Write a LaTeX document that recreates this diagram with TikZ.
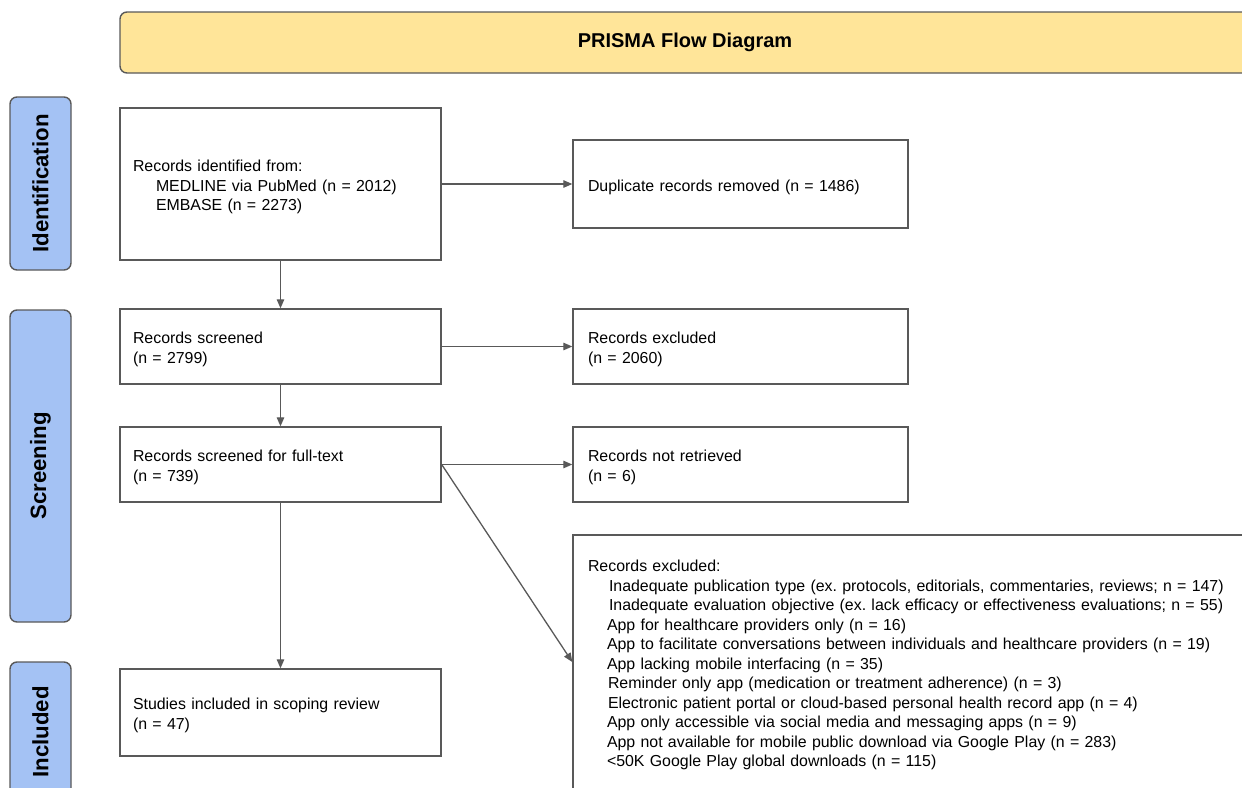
\documentclass[tikz,border=0pt]{standalone}
\usepackage{fontspec}
\setmainfont{Liberation Sans}
\usetikzlibrary{arrows.meta}
\frenchspacing
\definecolor{titlefill}{HTML}{FFE599}
\definecolor{sidefill}{HTML}{A4C2F4}
\definecolor{linegray}{HTML}{595959}
\newcommand\firstline{\rule{0pt}{17.5pt}}
\tikzset{
  stagebox/.style={draw=linegray, line width=1.4pt, fill=white, rectangle, align=left,
    inner xsep=13pt, font=\fontsize{15.9}{19.5}\selectfont},
  sidebox/.style={draw=linegray, line width=1.4pt, fill=sidefill, rounded corners=7pt,
    rotate=90, font=\fontsize{22.2}{24}\selectfont\bfseries, inner sep=0pt},
  titlebox/.style={draw=linegray, line width=1.4pt, fill=titlefill, rounded corners=7pt,
    font=\fontsize{20}{22}\selectfont\bfseries, inner sep=0pt},
  flow/.style={draw=linegray, line width=1.3pt, -{Triangle[length=9pt,width=7.5pt]}}
}
\begin{document}
\begin{tikzpicture}[x=1pt,y=-1pt]
\useasboundingbox (0,0) rectangle (1242,787);
\clip (0,0) rectangle (1242,787);
% title
\node[titlebox, minimum width=1130, minimum height=61] (title) at (685,42.5) {PRISMA Flow Diagram};
% side labels
\node[sidebox, minimum width=173, minimum height=61] (ident) at (40.5,183.5) {Identification};
\node[sidebox, minimum width=312, minimum height=61] (screen) at (40.5,466) {Screening};
\node[sidebox, minimum width=140, minimum height=61] (incl) at (40.5,732) {Included};
% left column
\node[stagebox, minimum width=321, minimum height=152, text width=295] (ident1) at (280.5,184)
  {\firstline Records identified from:\\\hspace*{23pt}MEDLINE via PubMed (n = 2012)\\\hspace*{23pt}EMBASE (n = 2273)};
\node[stagebox, minimum width=321, minimum height=75, text width=295] (scr) at (280.5,346.5)
  {\firstline Records screened\\(n = 2799)};
\node[stagebox, minimum width=321, minimum height=75, text width=295] (full) at (280.5,464.5)
  {\firstline Records screened for full-text\\(n = 739)};
\node[stagebox, minimum width=321, minimum height=87, text width=295] (incl1) at (280.5,712.5)
  {\firstline Studies included in scoping review\\(n = 47)};
% right column
\node[stagebox, inner xsep=15pt, minimum width=335, minimum height=88, text width=305] (dup) at (740.5,184)
  {\firstline Duplicate records removed (n = 1486)};
\node[stagebox, inner xsep=15pt, minimum width=335, minimum height=75, text width=305] (excl) at (740.5,346.5)
  {\firstline Records excluded\\(n = 2060)};
\node[stagebox, inner xsep=15pt, minimum width=335, minimum height=75, text width=305] (notret) at (740.5,464.5)
  {\firstline Records not retrieved\\(n = 6)};
\node[stagebox, inner xsep=15pt, minimum width=687, minimum height=254, text width=657] (excl2) at (916.5,662)
  {\firstline Records excluded:\\
  \hspace*{21pt}Inadequate publication type (ex. protocols, editorials, commentaries, reviews; n = 147)\\
  \hspace*{21pt}Inadequate evaluation objective (ex. lack efficacy or effectiveness evaluations; n = 55)\\
  \hspace*{19pt}App for healthcare providers only (n = 16)\\
  \hspace*{19pt}App to facilitate conversations between individuals and healthcare providers (n = 19)\\
  \hspace*{19pt}App lacking mobile interfacing (n = 35)\\
  \hspace*{20pt}Reminder only app (medication or treatment adherence) (n = 3)\\
  \hspace*{20pt}Electronic patient portal or cloud-based personal health record app (n = 4)\\
  \hspace*{19pt}App only accessible via social media and messaging apps (n = 9)\\
  \hspace*{19pt}App not available for mobile public download via Google Play (n = 283)\\
  \hspace*{19pt}<50K Google Play global downloads (n = 115)};
% connectors
\draw[flow] (ident1.south) -- (scr.north);
\draw[flow] (ident1.east) -- (dup.west);
\draw[flow] (scr.south) -- (full.north);
\draw[flow] (scr.east) -- (excl.west);
\draw[flow] (full.east) -- (notret.west);
\draw[flow] (full.east) -- (excl2.west);
\draw[flow] (full.south) -- (incl1.north);
\end{tikzpicture}
\end{document}
